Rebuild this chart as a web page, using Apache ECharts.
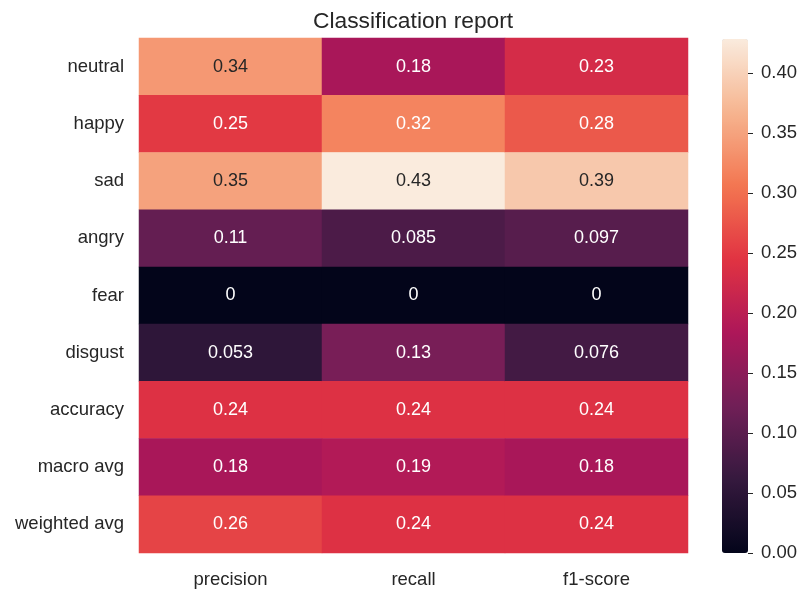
<!DOCTYPE html>
<html>
<head>
<meta charset="utf-8">
<script src="https://cdn.jsdelivr.net/npm/echarts@6/dist/echarts.min.js"></script>
<style>html,body{margin:0;padding:0;background:#fff;}#c{width:801px;height:590px;}</style>
</head>
<body>
<div id="c"></div>
<script>
const rows = ['neutral','happy','sad','angry','fear','disgust','accuracy','macro avg','weighted avg'];
const cols = ['precision','recall','f1-score'];
const precision = [0.34, 0.25, 0.35, 0.11, 0, 0.053, 0.24, 0.18, 0.26];
const recall    = [0.18, 0.32, 0.43, 0.085, 0, 0.13, 0.24, 0.19, 0.24];
const f1score   = [0.23, 0.28, 0.39, 0.097, 0, 0.076, 0.24, 0.18, 0.24];
const colorbarMin = 0;
const colorbarMax = 0.4286;
const colorbarTickMax = 0.40;
const colorbarTickStep = 0.05;
const title = 'Classification report';

const rocket = ['#03051a','#35193e','#701f57','#ad1759','#e13342','#f37651','#f6b48f','#faebdd'];
const textDark = '#262626';
const FONT = 'Liberation Sans, Arial, sans-serif';

const columns = [precision, recall, f1score];
const data = [];
columns.forEach((arr, ci) => {
  arr.forEach((v, ri) => {
    data.push({
      value: [ci, ri, v],
      label: { color: v > 0.33 ? textDark : '#ffffff' }
    });
  });
});

// colorbar geometry
const cbTop = 39, cbBottom = 553, cbLeft = 722, cbWidth = 26;
const cbHeight = cbBottom - cbTop;
const tickGridHeight = cbHeight * (colorbarTickMax - colorbarMin) / (colorbarMax - colorbarMin);

const chart = echarts.init(document.getElementById('c'), null, {renderer: 'canvas'});
chart.setOption({
  animation: false,
  backgroundColor: '#ffffff',
  textStyle: { fontFamily: FONT },
  graphic: [{
    type: 'text',
    left: 313,
    top: 10,
    style: {
      text: title,
      fill: textDark,
      font: '22.8px "Liberation Sans", Arial, sans-serif'
    }
  }],
  grid: [
    { left: 139, right: 113, top: 38, bottom: 37 },
    { left: cbLeft, top: cbBottom - tickGridHeight, width: cbWidth, height: tickGridHeight }
  ],
  xAxis: [
    {
      type: 'category', data: cols, gridIndex: 0, position: 'bottom',
      axisLine: { show: false }, axisTick: { show: false }, splitLine: { show: false },
      axisLabel: { color: textDark, fontSize: 18.5, margin: 17, fontFamily: FONT }
    },
    { type: 'value', gridIndex: 1, show: false, min: 0, max: 1 }
  ],
  yAxis: [
    {
      type: 'category', data: rows, gridIndex: 0, inverse: true,
      axisLine: { show: false }, axisTick: { show: false }, splitLine: { show: false },
      axisLabel: { color: textDark, fontSize: 18.5, margin: 15, fontFamily: FONT }
    },
    {
      type: 'value', gridIndex: 1, position: 'right',
      min: colorbarMin, max: colorbarTickMax, interval: colorbarTickStep,
      axisLine: { show: true, onZero: false, lineStyle: { color: '#ffffff', opacity: 0 } },
      splitLine: { show: false },
      axisTick: { show: true, inside: false, length: 5, lineStyle: { color: textDark, width: 1 } },
      axisLabel: { color: textDark, fontSize: 18.5, margin: 13,
        formatter: v => Number(v).toFixed(2), fontFamily: FONT },
      z: 10
    }
  ],
  visualMap: {
    type: 'continuous',
    min: colorbarMin, max: colorbarMax,
    seriesIndex: 0,
    calculable: false,
    hoverLink: false,
    orient: 'vertical',
    left: cbLeft, top: cbTop,
    itemWidth: cbWidth, itemHeight: cbHeight,
    padding: 0,
    text: null,
    showLabel: false,
    inRange: { color: rocket }
  },
  series: [{
    type: 'heatmap',
    xAxisIndex: 0, yAxisIndex: 0,
    data: data,
    label: {
      show: true, fontSize: 18, fontFamily: FONT,
      formatter: p => String(p.value[2])
    },
    itemStyle: { borderWidth: 0 },
    emphasis: { disabled: true }
  }]
});
</script>
</body>
</html>
